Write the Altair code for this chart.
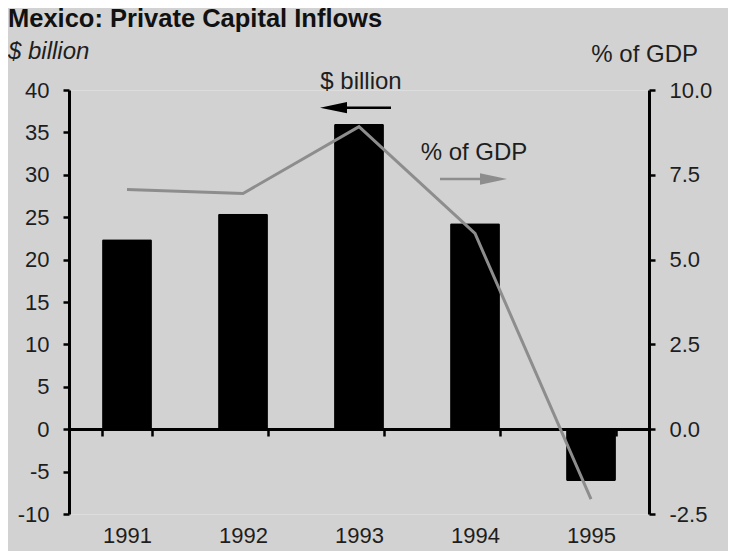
import altair as alt
import pandas as pd

# ---- data ----
years = ["1991", "1992", "1993", "1994", "1995"]
billions = [22.4, 25.4, 36.0, 24.3, -6.1]          # $ billion (bars, left axis)
pct_gdp = [7.07, 6.95, 8.92, 5.77, -2.06]          # % of GDP (line, right axis)
left_ticks = [-10, -5, 0, 5, 10, 15, 20, 25, 30, 35, 40]
right_ticks = [-2.5, 0.0, 2.5, 5.0, 7.5, 10.0]

title_text = ["Mexico: Private Capital Inflows"]
left_unit = ["$ billion"]
right_unit = ["% of GDP"]
ann_bil = ["$ billion"]
ann_pct = ["% of GDP"]

df = pd.DataFrame({"year": years, "billion": billions, "pct": pct_gdp})
one = pd.DataFrame({"k": [0]})

FONT = "Liberation Sans"
TXT = "#1e1e1e"
GRAY = "#8d8d8d"

x_enc = alt.X(
    "year:N",
    sort=years,
    scale=alt.Scale(paddingInner=0.57, paddingOuter=0.285),
    axis=alt.Axis(
        title=None, orient="bottom", offset=-85,
        domainColor="black", domainWidth=3,
        tickBand="extent", tickColor="black", tickWidth=2.5, tickSize=7,
        labelPadding=89, labelFontSize=22, labelColor=TXT, labelAngle=0,
        labelFont=FONT,
    ),
)

bars = alt.Chart(df).mark_bar(color="black", cornerRadius=1.5).encode(
    x=x_enc,
    y=alt.Y(
        "billion:Q",
        scale=alt.Scale(domain=[-10, 40], nice=False, zero=False),
        axis=alt.Axis(
            values=left_ticks, orient="left", title=None, grid=False,
            labelExpr="datum.value < 0 ? '-' + format(-datum.value, 'd') : format(datum.value, 'd')",
            domainColor="black", domainWidth=3,
            tickColor="black", tickWidth=2.5, tickSize=6,
            labelPadding=14, labelFontSize=22, labelColor=TXT, labelFont=FONT,
        ),
    ),
)

line = alt.Chart(df).mark_line(color=GRAY, strokeWidth=3).encode(
    x=x_enc,
    y=alt.Y(
        "pct:Q",
        scale=alt.Scale(domain=[-2.5, 10], nice=False, zero=False),
        axis=alt.Axis(
            values=right_ticks, orient="right", title=None, grid=False,
            labelExpr="datum.value < 0 ? '-' + format(-datum.value, '.1f') : format(datum.value, '.1f')",
            domainColor="black", domainWidth=3,
            tickColor="black", tickWidth=2.5, tickSize=6,
            labelPadding=14, labelFontSize=22, labelColor=TXT, labelFont=FONT,
        ),
    ),
)


def label(texts, xv, yv, size=24, weight="normal", style="normal", align="left", color=TXT):
    d = pd.DataFrame({"t": texts})
    return alt.Chart(d).mark_text(
        align=align, baseline="alphabetic", fontSize=size, fontWeight=weight,
        fontStyle=style, font=FONT, color=color,
    ).encode(x=alt.value(xv), y=alt.value(yv), text="t:N")


title = label(title_text, -61, -63, size=25.5, weight="bold", color="#111111")
lunit = label(left_unit, -61, -31, style="italic")
runit = label(right_unit, 629, -28, align="right")
a1 = label(ann_bil, 292, -1, align="center")
a2 = label(ann_pct, 405, 70, align="center")

arrow1_line = alt.Chart(one).mark_rule(color="black", strokeWidth=2.5).encode(
    x=alt.value(262), x2=alt.value(322), y=alt.value(17.7)
)
arrow1_head = alt.Chart(one).mark_point(
    shape="M -1 0 L 1 -0.42 L 1 0.42 Z", filled=True, size=729, color="black", opacity=1
).encode(x=alt.value(264.5), y=alt.value(17.7))

arrow2_line = alt.Chart(one).mark_rule(color=GRAY, strokeWidth=2.5).encode(
    x=alt.value(371), x2=alt.value(428), y=alt.value(89)
)
arrow2_head = alt.Chart(one).mark_point(
    shape="M 1 0 L -1 -0.42 L -1 0.42 Z", filled=True, size=729, color=GRAY, opacity=1
).encode(x=alt.value(424.5), y=alt.value(89))

chart = (
    alt.layer(bars, line, title, lunit, runit, a1, a2,
              arrow1_line, arrow1_head, arrow2_line, arrow2_head)
    .resolve_scale(y="independent")
    .properties(
        width=580, height=424,
        autosize=alt.AutoSizeParams(type="none"),
        padding={"left": 61, "top": 82, "right": 79, "bottom": 37},
        background="#d2d2d2",
    )
    .configure_view(stroke=None)
    .configure(font=FONT)
)

chart.save("out.html", embed_options={"renderer": "svg", "actions": False})
